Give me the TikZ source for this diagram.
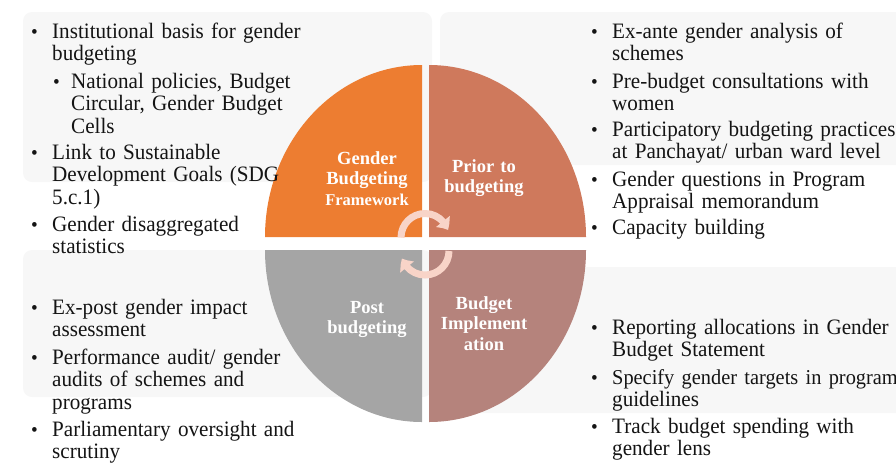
\documentclass[tikz,border=0pt]{standalone}
\usepackage{fontspec}
\setmainfont{Liberation Serif}[FakeStretch=0.96]
\newfontfamily\labelfont{Liberation Serif}
\usetikzlibrary{arrows.meta,bending}

\definecolor{framework}{RGB}{237,125,49}
\definecolor{prior}{RGB}{207,121,92}
\definecolor{implement}{RGB}{181,131,124}
\definecolor{post}{RGB}{165,165,165}
\definecolor{cyclepink}{RGB}{248,212,200}
\definecolor{panelgray}{RGB}{247,247,247}
\definecolor{ink}{RGB}{20,20,20}

\tikzset{
    panelbox/.style={fill=panelgray, rounded corners=9pt},
    itemtext/.style={anchor=base west, inner sep=0pt, text width=330pt, align=left,
        text=ink, font=\fontsize{22}{22.5}\selectfont},
    bulletdot/.style={anchor=base west, inner sep=0pt, text=ink,
        font=\fontsize{20}{20}\selectfont},
    phaselabel/.style={anchor=base, inner sep=0pt, text width=110pt, align=center,
        text=white, font=\labelfont\bfseries\fontsize{18.5}{20.5}\selectfont},
    cyclearc/.style={draw=cyclepink, line width=7pt,
        -{Triangle[width=17pt,length=10pt,bend]}}
}

% one bullet point: name, bullet x, text x, baseline y, text
\newcommand{\bulletitem}[5]{%
    \node[bulletdot] (#1-dot) at (#2,#4) {\textbullet};
    \node[itemtext] (#1) at (#3,#4) {#5};
}

\begin{document}
\begin{tikzpicture}[x=1pt,y=-1pt]

    \useasboundingbox (0,0) rectangle (896,467);

    % panels
    \fill[panelbox] (23,12) rectangle (432,182);
    \fill[panelbox] (440,12) rectangle (920,165);
    \fill[panelbox] (23,250) rectangle (432,397);
    \fill[panelbox] (440,267) rectangle (920,413);

    % quadrants
    \fill[framework]
        (422,237) -- ++(-157,0)
        arc[start angle=180, end angle=270, x radius=157, y radius=172] -- cycle;
    \fill[prior]
        (429,237) -- ++(0,-172)
        arc[start angle=270, end angle=360, x radius=157, y radius=172] -- cycle;
    \fill[implement]
        (429,250) -- ++(157,0)
        arc[start angle=0, end angle=90, x radius=157, y radius=172] -- cycle;
    \fill[post]
        (422,250) -- ++(0,172)
        arc[start angle=90, end angle=180, x radius=157, y radius=172] -- cycle;

    % cycle arrows
    \coordinate (upper hub) at (425,237.5);
    \coordinate (lower hub) at (425,251);
    \draw[cyclearc]
        (upper hub) ++(180:24)
        arc[start angle=180, end angle=342, radius=24];
    \draw[cyclearc]
        (lower hub) ++(0:24)
        arc[start angle=0, end angle=162, radius=24];

    % phase names
    \node[phaselabel] (framework label) at (367,164)
        {Gender\\Budgeting\\{\fontsize{16.5}{19}\selectfont Framework}};
    \node[phaselabel] (prior label) at (484,172) {Prior to\\budgeting};
    \node[phaselabel] (post label) at (367,313) {Post\\budgeting};
    \node[phaselabel] (implement label) at (484,309) {Budget\\Implement\\ation};

    % framework points
    \bulletitem{basis}{31}{52}{38}{Institutional basis for gender\\budgeting}
    \bulletitem{policies}{53}{71}{88}{National policies, Budget\\Circular, Gender Budget\\Cells}
    \bulletitem{sdg}{31}{52}{159}{Link to Sustainable\\Development Goals (SDG\\5.c.1)}
    \bulletitem{stats}{31}{52}{231}{Gender disaggregated\\statistics}

    % prior points
    \bulletitem{exante}{591}{612}{38}{Ex-ante gender analysis of\\schemes}
    \bulletitem{consult}{591}{612}{88}{Pre-budget consultations with\\women}
    \bulletitem{panchayat}{591}{612}{136}{Participatory budgeting practices\\at Panchayat/ urban ward level}
    \bulletitem{appraisal}{591}{612}{186}{Gender questions in Program\\Appraisal memorandum}
    \bulletitem{capacity}{591}{612}{234}{Capacity building}

    % post points
    \bulletitem{expost}{31}{52}{314}{Ex-post gender impact\\assessment}
    \bulletitem{audit}{31}{52}{364}{Performance audit/ gender\\audits of schemes and\\programs}
    \bulletitem{oversight}{31}{52}{436}{Parliamentary oversight and\\scrutiny}

    % implementation points
    \bulletitem{reporting}{591}{612}{334}{Reporting allocations in Gender\\Budget Statement}
    \bulletitem{targets}{591}{612}{384}{{\fontsize{21.2}{22.5}\selectfont Specify gender targets in program}\\guidelines}
    \bulletitem{tracking}{591}{612}{433}{Track budget spending with\\gender lens}

\end{tikzpicture}
\end{document}
